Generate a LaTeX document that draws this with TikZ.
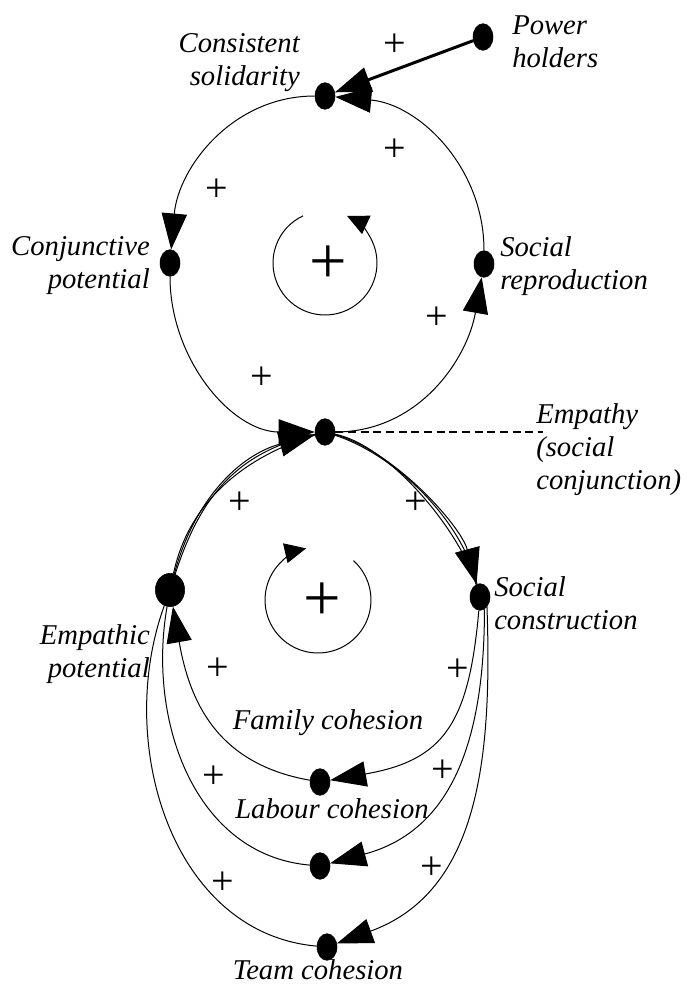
\documentclass[tikz,border=0pt]{standalone}
\usepackage{fontspec}
\setmainfont{Liberation Serif}
\usetikzlibrary{arrows.meta,shapes.geometric}
\tikzset{%
  cdot/.style={draw,shape=ellipse,fill=black,inner sep=0,minimum width=15pt,minimum height=20pt},
  bigcdot/.style={cdot,minimum width=22pt,minimum height=25pt},
  wire/.style={draw,line width=0.75pt},
  causal/.style={wire,-{Triangle[length=27pt,width=19pt]}},
  pluslbl/.style={inner sep=0,font=\fontsize{30}{30}\selectfont},
  loopsign/.style={inner sep=0,font=\fontsize{50}{50}\selectfont},
  varlbl/.style={inner sep=0,font=\fontsize{21.5}{25}\selectfont\itshape}
}
\begin{document}
\begin{tikzpicture}[x=0.75pt,y=0.75pt]
  \useasboundingbox (0,0) rectangle (687,-986);
  % upper loop
  \path
    (325,-96)  node (sol)[cdot]{}
    (170,-263) node (conj)[cdot]{}
    (484,-264) node (repro)[cdot]{}
    (325,-432) node (emp)[cdot]{}
    (483,-37)  node (power)[cdot]{};
  % lower loops
  \path
    (170,-590) node (empot)[bigcdot]{}
    (480,-597) node (scon)[cdot]{}
    (320,-782) node (fam)[cdot]{}
    (320,-866) node (lab)[cdot]{}
    (327,-947) node (team)[cdot]{};
  \coordinate (dashend) at (543,-432);

  \draw[causal,line width=2.25pt] (power) -- (sol);
  \draw[causal] (repro) to[out=90,in=-5] (sol);
  \draw[causal] (sol) to[out=180,in=85] (conj);
  \draw[causal] (conj) to[out=-90,in=180] (emp);
  \draw[causal] (emp) to[out=0,in=-100] (repro);
  \draw[wire,line width=1pt,dash pattern=on 6pt off 3.5pt] (emp) -- (dashend);

  \draw[causal] (emp) to[out=-15,in=105,looseness=0.75] (scon);
  \draw[wire] (emp) to[out=-12,in=107,looseness=0.7] (scon);
  \draw[wire] (emp) to[out=-18,in=103,looseness=0.8] (scon);
  \draw[causal] (empot) to[out=75,in=195] (emp);
  \draw[wire] (empot) to[out=72,in=193,looseness=1.05] (emp);
  \draw[wire] (empot) to[out=78,in=197,looseness=0.95] (emp);

  \draw[causal] (scon) to[out=-95,in=10,looseness=1.3] (fam);
  \draw[causal] (scon.-70) to[out=-90,in=15,looseness=1.1] (lab);
  \draw[causal] (scon.-55) to[out=-88,in=20,looseness=1.05] (team);
  \draw[causal] (fam) to[out=170,in=-80,looseness=1.1] (empot);
  \draw[wire] (lab) to[out=175,in=-100] (empot);
  \draw[wire] (team) to[out=175,in=-110] (empot);

  % loop direction marks
  \draw[wire,-{Triangle[length=16pt,width=15pt]}] (325,-263) ++(115:52) arc[start angle=115,end angle=425,radius=52];
  \draw[wire,-{Triangle[length=16pt,width=15pt]}] (318,-600) ++(48:53) arc[start angle=48,end angle=-257,radius=53];
  \path
    (328,-265) node (r1)[loopsign]{+}
    (322,-602) node (r2)[loopsign]{+};

  % polarities
  \path
    (395,-45)  node (s1)[pluslbl]{+}
    (395,-150) node (s2)[pluslbl]{+}
    (217,-190) node (s3)[pluslbl]{+}
    (437,-318) node (s4)[pluslbl]{+}
    (262,-378) node (s5)[pluslbl]{+}
    (240,-503) node (s6)[pluslbl]{+}
    (416,-503) node (s7)[pluslbl]{+}
    (218,-669) node (s8)[pluslbl]{+}
    (458,-670) node (s9)[pluslbl]{+}
    (214,-777) node (s10)[pluslbl]{+}
    (443,-771) node (s11)[pluslbl]{+}
    (223,-883) node (s12)[pluslbl]{+}
    (432,-868) node (s13)[pluslbl]{+};

  % variable names
  \path
    (300,-33)  node (soltxt)[varlbl,anchor=north east,align=right]{Consistent\\solidarity}
    (512,-15)  node (powtxt)[varlbl,anchor=north west,align=left]{Power\\holders}
    (150,-236) node (conjtxt)[varlbl,anchor=north east,align=right]{Conjunctive\\potential}
    (500,-236) node (reprotxt)[varlbl,anchor=north west,align=left]{Social\\reproduction}
    (536,-403) node (emptxt)[varlbl,anchor=north west,align=left]{Empathy\\(social\\conjunction)}
    (494,-576) node (scontxt)[varlbl,anchor=north west,align=left]{Social\\construction}
    (150,-624) node (empottxt)[varlbl,anchor=north east,align=right]{Empathic\\potential}
    (328,-729) node (famtxt)[varlbl,anchor=base]{Family cohesion}
    (332,-818) node (labtxt)[varlbl,anchor=base]{Labour cohesion}
    (318,-979) node (teamtxt)[varlbl,anchor=base]{Team cohesion};
\end{tikzpicture}
\end{document}
